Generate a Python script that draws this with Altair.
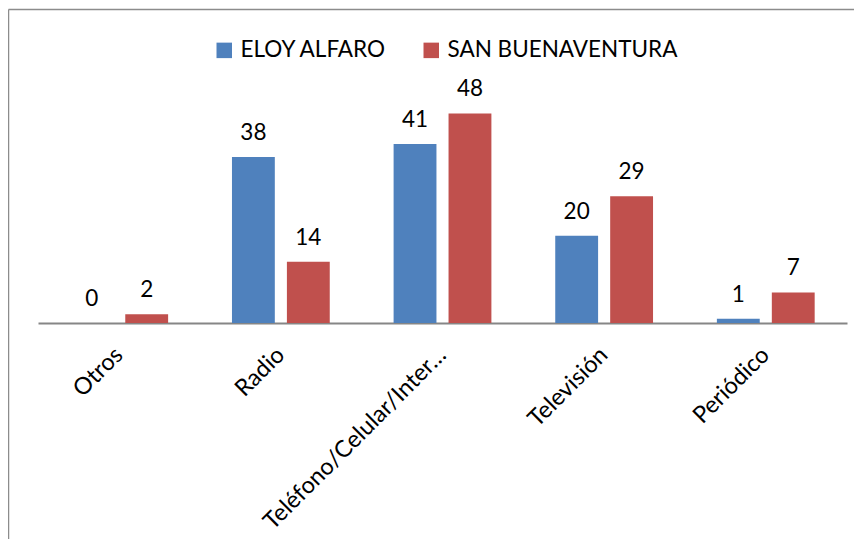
import altair as alt
import pandas as pd

categories = ["Otros", "Radio", "Teléfono/Celular/Internet", "Televisión", "Periódico"]
series = ["ELOY ALFARO", "SAN BUENAVENTURA"]
eloy_alfaro = [0, 38, 41, 20, 1]
san_buenaventura = [2, 14, 48, 29, 7]
colors = ["#4F81BD", "#C0504D"]

rows = []
for c, a, b in zip(categories, eloy_alfaro, san_buenaventura):
    rows.append({"cat": c, "serie": series[0], "val": a})
    rows.append({"cat": c, "serie": series[1], "val": b})
df = pd.DataFrame(rows)

FONT = "Lato"

x = alt.X("cat:N", sort=categories,
          scale=alt.Scale(paddingInner=0.395, paddingOuter=0.2),
          axis=alt.Axis(title=None, labelAngle=-45, labelAlign="right", labelBaseline="middle",
                        labelPadding=28, labelFontSize=23.5, labelFont=FONT, labelColor="#000000",
                        ticks=False, grid=False, domainColor="#868686", domainWidth=2,
                        labelLimit=0,
                        labelExpr="datum.label == 'Teléfono/Celular/Internet' ? 'Teléfono/Celular/Inter…' : datum.label"))
xo = alt.XOffset("serie:N", sort=series, scale=alt.Scale(paddingInner=0.22, paddingOuter=0))
y = alt.Y("val:Q", scale=alt.Scale(domain=[0, 60]), axis=None)

bars = alt.Chart(df).mark_bar().encode(
    x=x, xOffset=xo, y=y,
    color=alt.Color("serie:N", sort=series, scale=alt.Scale(domain=series, range=colors),
                    legend=alt.Legend(title=None, orient="none", legendX=175, legendY=-22,
                                      direction="horizontal", symbolType="square", symbolSize=240,
                                      symbolStrokeWidth=0, labelFontSize=22.5, labelFont=FONT,
                                      labelColor="#000000", labelOffset=5, columnPadding=33,
                                      labelLimit=500, padding=0)),
)

text = alt.Chart(df).mark_text(fontSize=22.5, font=FONT, color="#000000", baseline="alphabetic", dy=-17).encode(
    x=x, xOffset=xo, y=y, text=alt.Text("val:Q")
)

frame_df = pd.DataFrame({"k": [0]})
frame_left = alt.Chart(frame_df).mark_rule(color="#8c8c8c", strokeWidth=1.5).encode(
    x=alt.value(-29.5), y=alt.value(-51.5), y2=alt.value(480))
frame_top = alt.Chart(frame_df).mark_rule(color="#8c8c8c", strokeWidth=1.5).encode(
    x=alt.value(-29.5), x2=alt.value(816), y=alt.value(-51.5))

chart = alt.layer(bars, text, frame_left, frame_top).properties(
    width=809, height=262,
    padding={"left": 30, "top": 53, "right": 7, "bottom": 216},
    autosize=alt.AutoSizeParams(type="none"),
    background="white",
).configure_view(stroke=None)

chart.save("out.html", embed_options={"renderer": "svg", "actions": False})
